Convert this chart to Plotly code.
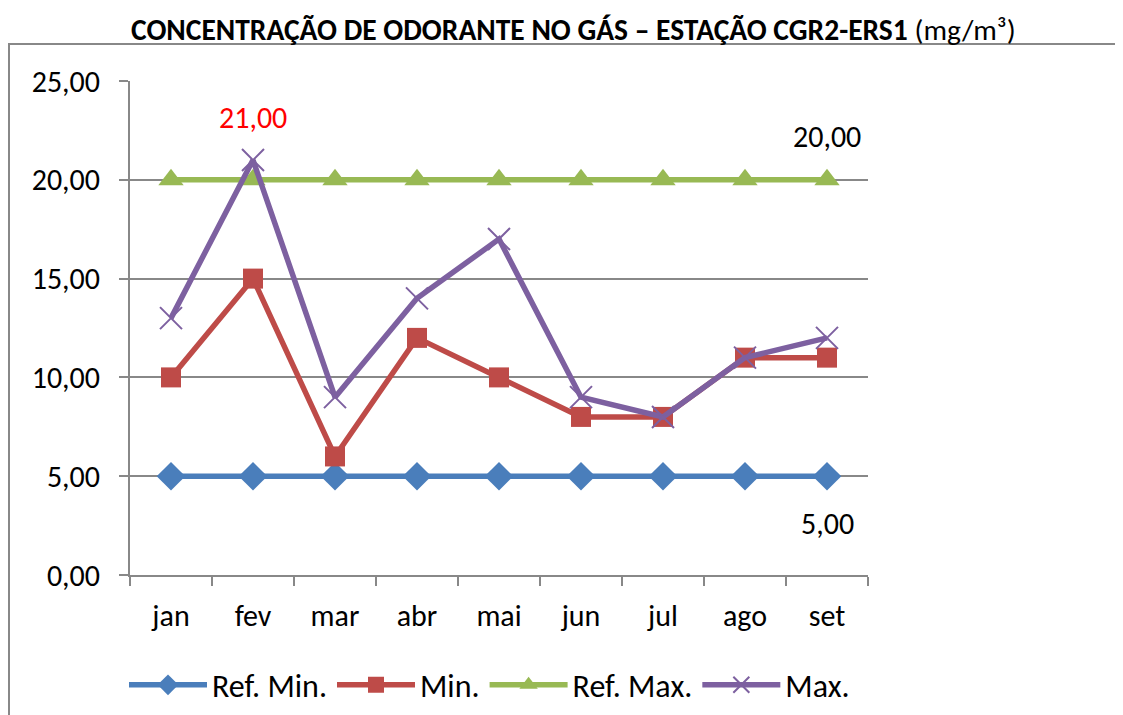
import plotly.graph_objects as go

months = ["jan", "fev", "mar", "abr", "mai", "jun", "jul", "ago", "set"]
ref_min = [5, 5, 5, 5, 5, 5, 5, 5, 5]
min_vals = [10, 15, 6, 12, 10, 8, 8, 11, 11]
ref_max = [20, 20, 20, 20, 20, 20, 20, 20, 20]
max_vals = [13, 21, 9, 14, 17, 9, 8, 11, 12]

FONT = "Carlito, Calibri, Lato, 'Open Sans', sans-serif"
FS = 30

fig = go.Figure()
fig.add_trace(go.Scatter(x=months, y=ref_min, name="Ref. Min.", mode="lines+markers",
                         line=dict(color="#4A7EBB", width=5.5),
                         marker=dict(symbol="diamond", size=22, color="#4A7EBB")))
fig.add_trace(go.Scatter(x=months, y=min_vals, name="Min.", mode="lines+markers",
                         line=dict(color="#BE4B48", width=5.5),
                         marker=dict(symbol="square", size=20, color="#BE4B48")))
fig.add_trace(go.Scatter(x=months, y=ref_max, name="Ref. Max.", mode="lines+markers",
                         line=dict(color="#98B954", width=5.5),
                         marker=dict(symbol="triangle-up", size=22, color="#98B954")))
fig.add_trace(go.Scatter(x=months, y=max_vals, name="Max.", mode="lines+markers",
                         line=dict(color="#7D60A0", width=5.5),
                         marker=dict(symbol="x-thin-open", size=22,
                                     line=dict(color="#7D60A0", width=2))))

W, H = 1123, 715
OFF = 8  # page body offset
# target screen coordinates of plot area
SX0, SX1, SY0, SY1 = 130, 868, 81, 576
L, T = SX0 - OFF, SY0 - OFF
R, B = W - (SX1 - OFF), H - (SY1 - OFF)
pw, ph = SX1 - SX0, SY1 - SY0

def px(x):
    return (x - SX0) / pw

def py(y):
    return (SY1 - y) / ph

fig.update_layout(
    width=W, height=H,
    margin=dict(l=L, r=R, t=T, b=B),
    paper_bgcolor="white", plot_bgcolor="white",
    separators=",.",
    font=dict(family=FONT, size=FS, color="black"),
    showlegend=True,
    legend=dict(orientation="h", x=px(124), xanchor="left", y=py(685), yanchor="middle",
                font=dict(size=32), itemwidth=78, tracegroupgap=0),
    xaxis=dict(type="category", range=[-0.5, 8.5], tickson="boundaries",
               ticks="outside", ticklen=9, tickcolor="#888888", tickwidth=2,
               ticklabelstandoff=13,
               showline=True, linecolor="#888888", linewidth=2,
               showgrid=False, zeroline=False, tickfont=dict(size=FS)),
    yaxis=dict(range=[0, 25], dtick=5, tickformat=".2f",
               ticks="outside", ticklen=9, tickcolor="#888888", tickwidth=2,
               ticklabelstandoff=13,
               showline=True, linecolor="#888888", linewidth=2,
               showgrid=True, gridcolor="#888888", gridwidth=2, zeroline=False,
               tickfont=dict(size=FS)),
)

fig.add_annotation(x=px(573), y=py(30), xref="paper", yref="paper",
                   text="<b>CONCENTRAÇÃO DE ODORANTE NO GÁS – ESTAÇÃO CGR2-ERS1</b> (mg/m³)",
                   showarrow=False, font=dict(size=29.5, color="black"),
                   xanchor="center", yanchor="middle")

fig.add_annotation(x="fev", y=max_vals[1], text=f"{max_vals[1]:.2f}".replace(".", ","),
                   showarrow=False, yshift=43, font=dict(size=FS, color="#FF0000"))
fig.add_annotation(x="set", y=ref_max[-1], text=f"{ref_max[-1]:.2f}".replace(".", ","),
                   showarrow=False, yshift=43, font=dict(size=FS, color="black"))
fig.add_annotation(x="set", y=ref_min[-1], text=f"{ref_min[-1]:.2f}".replace(".", ","),
                   showarrow=False, yshift=-47, font=dict(size=FS, color="black"))

fig.add_shape(type="rect", xref="paper", yref="paper",
              x0=px(9), x1=px(1140), y0=py(740), y1=py(44),
              line=dict(color="#888888", width=2), layer="below")

fig.write_html("out.html")
